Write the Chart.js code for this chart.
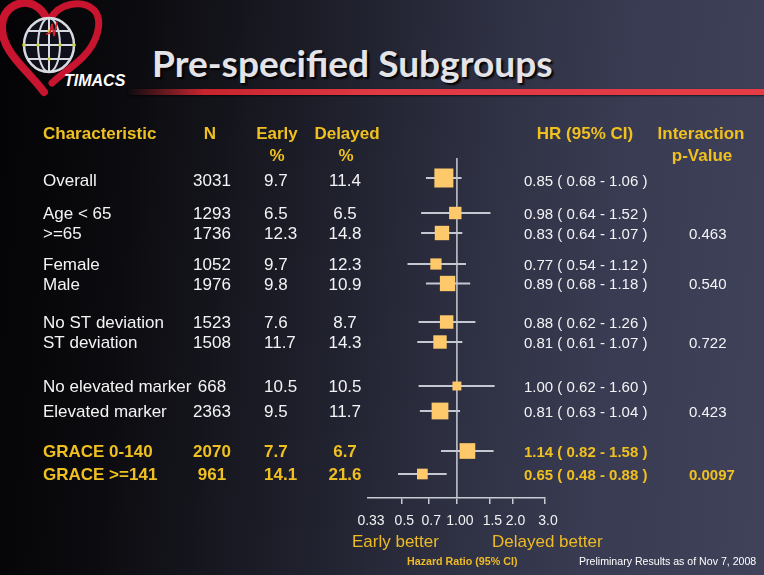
<!DOCTYPE html>
<html><head><meta charset="utf-8">
<script src="https://cdn.jsdelivr.net/npm/chart.js@4"></script>
<style>
html,body{margin:0;padding:0;}
body{width:764px;height:575px;overflow:hidden;position:relative;
background:linear-gradient(95deg,#030305 0%,#0c0c10 18%,#1b1c26 38%,#2c2e40 58%,#393b52 78%,#40425a 100%);
font-family:"Liberation Sans",Arial,sans-serif;}
#c{position:absolute;left:0;top:0;}
.title{position:absolute;left:152px;top:41px;font-family:Lato,"Open Sans",sans-serif;font-weight:bold;font-size:36px;color:#e4e4e8;text-shadow:2px 2px 2px #000;white-space:nowrap;transform:scaleX(1.03);transform-origin:0 0;}
.redline{position:absolute;left:128px;top:89px;width:636px;height:6px;background:linear-gradient(to right,rgba(200,30,40,0) 0%,#c8242e 12%,#e03a44 40%,#e63c46 100%);box-shadow:0 1px 2px rgba(0,0,0,.6);}
.timacs{position:absolute;left:64px;top:72px;font-family:"Liberation Sans",Arial,sans-serif;font-style:italic;font-weight:bold;font-size:16px;color:#fff;}
.cap{position:absolute;white-space:nowrap;}
</style></head><body>
<svg width="130" height="100" style="position:absolute;left:0;top:0">
  <path d="M44 92 C28 70 1 52 2 26 C3 6 22 -1 34 5 C42 9 46 16 48 22" fill="none" stroke="#c8142e" stroke-width="8" stroke-linecap="round"/>
  <path d="M50 20 C58 3 82 -1 94 10 C104 21 97 43 83 57 C73 67 60 75 52 83" fill="none" stroke="#c8142e" stroke-width="7" stroke-linecap="round"/>
  <ellipse cx="49" cy="45" rx="25" ry="27" fill="#10101a" stroke="#d8dae2" stroke-width="2.5"/>
  <ellipse cx="49" cy="45" rx="11" ry="27" fill="none" stroke="#d8dae2" stroke-width="2"/>
  <line x1="49" y1="18" x2="49" y2="72" stroke="#d8dae2" stroke-width="2"/>
  <line x1="24" y1="45" x2="74" y2="45" stroke="#d8dae2" stroke-width="2"/>
  <line x1="28" y1="31" x2="70" y2="31" stroke="#d8dae2" stroke-width="2"/>
  <line x1="28" y1="59" x2="70" y2="59" stroke="#d8dae2" stroke-width="2"/>
  <circle cx="38" cy="45" r="1.8" fill="#c8d040"/><circle cx="60" cy="45" r="1.8" fill="#c8d040"/>
  <circle cx="49" cy="31" r="1.8" fill="#c8d040"/><circle cx="49" cy="59" r="1.8" fill="#c8d040"/>
  <circle cx="24" cy="45" r="1.8" fill="#c8d040"/><circle cx="74" cy="45" r="1.8" fill="#c8d040"/>
  <path d="M46 34 L50 33 L52 24 L54 36 L57 22" fill="none" stroke="#d0202a" stroke-width="1.6"/>
</svg>
<div class="timacs">TIMACS</div>
<div class="title">Pre-specified Subgroups</div>
<div class="redline"></div>
<canvas id="c" width="764" height="575"></canvas>
<div class="cap" style="left:352px;top:532px;font-size:17px;color:#eebb25;">Early better</div>
<div class="cap" style="left:492px;top:532px;font-size:17px;color:#eebb25;">Delayed better</div>
<div class="cap" style="left:407px;top:555px;font-size:10.7px;font-weight:bold;color:#eebb25;">Hazard Ratio (95% CI)</div>
<div class="cap" style="left:579px;top:555px;font-size:10.6px;color:#ffffff;">Preliminary Results as of Nov 7, 2008</div>
<script>
// ---- data ----
const subgroups = ['Overall','Age < 65','>=65','Female','Male','No ST deviation','ST deviation','No elevated marker','Elevated marker','GRACE 0-140','GRACE >=141'];
const nPatients = [3031,1293,1736,1052,1976,1523,1508,668,2363,2070,961];
const earlyPct = [9.7,6.5,12.3,9.7,9.8,7.6,11.7,10.5,9.5,7.7,14.1];
const delayedPct = [11.4,6.5,14.8,12.3,10.9,8.7,14.3,10.5,11.7,6.7,21.6];
const hazardRatio = [0.85,0.98,0.83,0.77,0.89,0.88,0.81,1.00,0.81,1.14,0.65];
const ciLow = [0.68,0.64,0.64,0.54,0.68,0.62,0.61,0.62,0.63,0.82,0.48];
const ciHigh = [1.06,1.52,1.07,1.12,1.18,1.26,1.07,1.60,1.04,1.58,0.88];
const interactionP = ['','','0.463','','0.540','','0.722','','0.423','','0.0097'];
const tickValues = [0.33,0.5,0.7,1.0,1.5,2.0,3.0];
const tickLabels = ['0.33','0.5','0.7','1.00','1.5','2.0','3.0'];
const highlighted = [false,false,false,false,false,false,false,false,false,true,true];

// ---- layout (row slots on the vertical scale, not data) ----
const rowSlot = [2.0,5.5,7.5,10.6,12.55,16.4,18.4,22.8,25.3,29.3,31.6];
const textShift = [3.5,1.5,1.5,1.5,1.5,1.5,1.5,1.5,1.5,1.5,1.5];
const Y_MAX = 34;

const YELLOW = '#f0c020', WHITE = '#f4f4f6', GREY = '#c4c8d0', BOX = '#fdc96b';
const FONT = '"Liberation Sans", Arial, sans-serif';

const boxData = hazardRatio.map((v,i)=>({x:v,y:rowSlot[i]}));
const whiskerData = [];
ciLow.forEach((lo,i)=>{ whiskerData.push({x:lo,y:rowSlot[i]},{x:ciHigh[i],y:rowSlot[i]},{x:null,y:null}); });
const refData = [{x:1,y:0},{x:1,y:Y_MAX}];

const tablePlugin = {
  id:'table',
  afterDatasetsDraw(chart){
    const ctx = chart.ctx, ys = chart.scales.y;
    ctx.save();
    ctx.textBaseline = 'middle';
    ctx.fillStyle = YELLOW;
    ctx.font = 'bold 17px ' + FONT;
    ctx.textAlign = 'left';  ctx.fillText('Characteristic', 43, 134);
    ctx.textAlign = 'center';
    ctx.fillText('N', 210, 134);
    ctx.fillText('Early', 277, 134); ctx.fillText('%', 277, 156);
    ctx.fillText('Delayed', 347, 134); ctx.fillText('%', 346, 156);
    ctx.fillText('HR (95% CI)', 585, 134);
    ctx.fillText('Interaction', 701, 134); ctx.fillText('p-Value', 702, 156);
    subgroups.forEach((lab,i)=>{
      const y = ys.getPixelForValue(rowSlot[i]) + textShift[i];
      const b = highlighted[i] ? 'bold ' : '';
      ctx.fillStyle = highlighted[i] ? YELLOW : WHITE;
      ctx.font = b + '17px ' + FONT;
      ctx.textAlign = 'left';
      ctx.fillText(lab, 43, y);
      ctx.textAlign = 'center';
      ctx.fillText(String(nPatients[i]), 212, y);
      ctx.textAlign = 'left';
      ctx.fillText(earlyPct[i].toFixed(1), 264, y);
      ctx.textAlign = 'center';
      ctx.fillText(delayedPct[i].toFixed(1), 345, y);
      ctx.font = b + '15px ' + FONT;
      ctx.textAlign = 'left';
      ctx.fillText(hazardRatio[i].toFixed(2)+' ( '+ciLow[i].toFixed(2)+' - '+ciHigh[i].toFixed(2)+' )', 524, y);
      if (interactionP[i]) ctx.fillText(interactionP[i], 689, y);
    });
    ctx.restore();
  }
};

new Chart(document.getElementById('c'), {
  type:'scatter',
  data:{datasets:[
    {label:'HR', data:boxData, order:0, pointStyle:'rect', backgroundColor:BOX, borderWidth:0,
     pointRadius:(c)=>0.244*Math.sqrt(nPatients[c.dataIndex]||0), pointHoverRadius:(c)=>0.244*Math.sqrt(nPatients[c.dataIndex]||0)},
    {label:'CI', data:whiskerData, order:1, showLine:true, spanGaps:false, borderColor:GREY, borderWidth:2, pointRadius:0, pointHoverRadius:0},
    {label:'ref', data:refData, order:2, showLine:true, borderColor:'#c8ccd4', borderWidth:1.5, pointRadius:0, pointHoverRadius:0}
  ]},
  options:{
    responsive:false, devicePixelRatio:1, animation:false, events:[],
    layout:{padding:{left:368,right:219,top:158,bottom:0}},
    plugins:{legend:{display:false},tooltip:{enabled:false}},
    scales:{
      x:{type:'logarithmic', bounds:'data', min:0.33, max:3.0,
         afterBuildTicks:(s)=>{ s.ticks = tickValues.map(v=>({value:v})); },
         afterFit:(s)=>{ s.height = 77; },
         grid:{drawOnChartArea:false, drawTicks:true, tickLength:6, lineWidth:1.5,
               tickColor:(c)=> c.index===0 ? 'rgba(0,0,0,0)' : '#c8ccd4'},
         border:{display:true, color:'#c8ccd4', width:1.5},
         ticks:{autoSkip:false, maxRotation:0, padding:9, labelOffset:3, color:'#f2f2f4',
                font:{family:FONT, size:14},
                callback:(v,i)=>tickLabels[i]}},
      y:{type:'linear', min:0, max:Y_MAX, reverse:true, display:false}
    }
  },
  plugins:[tablePlugin]
});
</script>
</body></html>
